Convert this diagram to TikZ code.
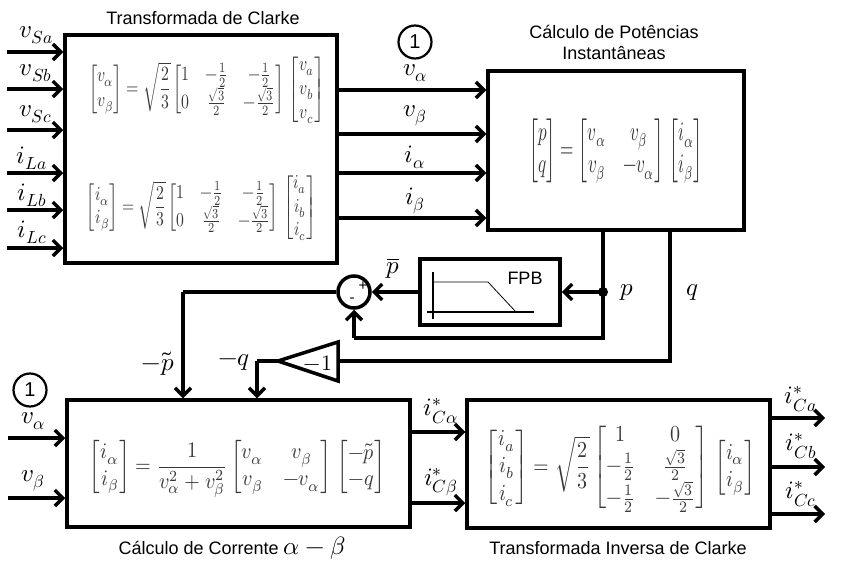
\documentclass[tikz,border=0pt]{standalone}
\usepackage{amsmath}
\usepackage{graphicx}
\usepackage{fontspec}
\setmainfont{Liberation Sans}
\usepackage{unicode-math}
\setmathfont{Latin Modern Math}
\usetikzlibrary{arrows.meta}
\begin{document}
\begin{tikzpicture}[x=1pt,y=-1pt,
  blk/.style={draw,line width=3.5pt,rectangle,inner sep=0pt},
  arr/.style={line width=3.5pt,-{Straight Barb[length=8pt,width=16pt,line width=3.5pt]}},
  ln/.style={line width=3.5pt},
  lab/.style={font=\fontsize{25}{28}\selectfont,inner sep=0pt},
  eq/.style={text=black!78,inner sep=0pt},
  ttl/.style={font=\fontsize{18}{21}\selectfont,inner sep=0pt,align=center},
  num/.style={draw,circle,line width=2.2pt,minimum size=33pt,inner sep=0pt,font=\fontsize{20}{22}\selectfont}]
\useasboundingbox (0,0) rectangle (844,570);

% blocks
\node[blk,minimum width=272pt,minimum height=228pt] (clarke) at (201,149) {};
\node[blk,minimum width=256pt,minimum height=159pt] (pot) at (616,150.5) {};
\node[blk,minimum width=140pt,minimum height=66pt] (fpb) at (490,292) {};
\node[blk,minimum width=343pt,minimum height=127pt] (cor) at (238.5,463.5) {};
\node[blk,minimum width=303pt,minimum height=128pt] (inv) at (618.5,464) {};
\node[draw,circle,line width=3.5pt,minimum size=32pt,inner sep=0pt] (sum) at (354,292) {};

% titles
\node[ttl] (t1) at (203,18) {Transformada de Clarke};
\node[ttl] (t2) at (614,42) {Cálculo de Potências\\Instantâneas};
\node[ttl] (t3) at (232,548) {Cálculo de Corrente {\fontsize{25}{28}\selectfont$\alpha-\beta$}};
\node[ttl] (t4) at (618,548) {Transformada Inversa de Clarke};

% equations
\node[eq] (e1) at (207,89.5) {\resizebox*{236pt}{73pt}{$\begin{bmatrix}v_\alpha\\ v_\beta\end{bmatrix}=\sqrt{\dfrac{2}{3}}\begin{bmatrix}1&-\frac12&-\frac12\\ 0&\frac{\sqrt3}{2}&-\frac{\sqrt3}{2}\end{bmatrix}\,\begin{bmatrix}v_a\\ v_b\\ v_c\end{bmatrix}$}};
\node[eq] (e2) at (202,207.5) {\resizebox*{230pt}{71pt}{$\begin{bmatrix}i_\alpha\\ i_\beta\end{bmatrix}=\sqrt{\dfrac{2}{3}}\begin{bmatrix}1&-\frac12&-\frac12\\ 0&\frac{\sqrt3}{2}&-\frac{\sqrt3}{2}\end{bmatrix}\,\begin{bmatrix}i_a\\ i_b\\ i_c\end{bmatrix}$}};
\node[eq] (e3) at (616,150.5) {\resizebox*{174pt}{65pt}{$\begin{bmatrix}p\\ q\end{bmatrix}=\begin{bmatrix}v_\alpha&v_\beta\\ v_\beta&-v_\alpha\end{bmatrix}\,\begin{bmatrix}i_\alpha\\ i_\beta\end{bmatrix}$}};
\node[eq] (e4) at (237.5,469) {\resizebox*{295pt}{58pt}{$\begin{bmatrix}i_\alpha\\ i_\beta\end{bmatrix}=\dfrac{1}{v_\alpha^2+v_\beta^2}\begin{bmatrix}v_\alpha&v_\beta\\ v_\beta&-v_\alpha\end{bmatrix}\,\begin{bmatrix}-\tilde p\\ -q\end{bmatrix}$}};
\node[eq] (e5) at (620,467.5) {\resizebox*{270pt}{91pt}{$\begin{bmatrix}i_a\\ i_b\\ i_c\end{bmatrix}=\sqrt{\dfrac{2}{3}}\begin{bmatrix}1&0\\ -\frac12&\frac{\sqrt3}{2}\\ -\frac12&-\frac{\sqrt3}{2}\end{bmatrix}\,\begin{bmatrix}i_\alpha\\ i_\beta\end{bmatrix}$}};

% Clarke inputs
\foreach \y/\t/\lx/\ly in {52/v_{Sa}/36/35, 89/v_{Sb}/36/73, 130/v_{Sc}/36/114, 173/i_{La}/32/158, 210/i_{Lb}/32/195, 248/i_{Lc}/32/232}{
  \coordinate (in\y) at (7,\y);
  \draw[arr] (in\y) -- (clarke.west |- in\y);
  \node[lab] at (\lx,\ly) {$\t$};
}
% Clarke outputs
\foreach \y/\t/\ly in {90/v_\alpha/73, 134/v_\beta/116, 173/i_\alpha/157, 218/i_\beta/201}{
  \coordinate (o\y) at (clarke.east |- 0,\y);
  \draw[arr] (o\y) -- (pot.west |- o\y);
  \node[lab] at (415,\ly) {$\t$};
}
\node[num] (n1) at (415,42) {1};

% p path
\coordinate (pt) at (603,230);
\coordinate (pd) at (603,292);
\coordinate (pb) at (603,338);
\coordinate (sb) at (354,338);
\draw[ln] (pt) -- (pb) -- (sb);
\draw[arr] (sb) -- (sum.south);
\fill (pd) circle (5pt);
\draw[arr] (pd) -- (fpb.east);
\node[lab] at (627,292) {$p$};
\draw[arr] (fpb.west) -- (sum.east);
\node[lab] at (393,268) {$\overline{p}$};
\node[font=\fontsize{15}{16}\selectfont,inner sep=0pt] at (363,286) {+};
\node[font=\fontsize{15}{16}\selectfont,inner sep=0pt] at (352,300) {-};

% FPB content
\node[font=\fontsize{18}{20}\selectfont,inner sep=0pt] (fl) at (525,278) {FPB};
\draw[line width=1.8pt] (433,272) -- (433,319);
\draw[line width=1.8pt] (427,312) -- (534,312);
\draw[line width=0.8pt] (433,282) -- (488,282) -- (516,312);

% p tilde path
\coordinate (pl) at (183,292);
\draw[ln] (sum.west) -- (pl);
\draw[arr] (pl) -- (pl |- cor.north);
\node[lab] at (158,364) {$-\tilde p$};

% q path
\coordinate (qt) at (670,230);
\coordinate (qb) at (670,361);
\coordinate (tr) at (338,361);
\coordinate (tt) at (278,361);
\draw[ln] (qt) -- (qb) -- (tr);
\node[lab] at (692,292) {$q$};
\draw[line width=3.5pt,line join=miter] (338,342) -- (338,381) -- (tt) -- cycle;
\node[font=\fontsize{22}{24}\selectfont,inner sep=0pt] at (318,363) {$-1$};
\coordinate (ql) at (257,361);
\draw[ln] (tt) -- (ql);
\draw[arr] (ql) -- (ql |- cor.north);
\node[lab] at (234,362) {$-q$};

% current block inputs
\node[num] (n2) at (30,390) {1};
\foreach \y/\t/\ly in {438/v_\alpha/421, 498/v_\beta/481}{
  \coordinate (ci\y) at (8,\y);
  \draw[arr] (ci\y) -- (cor.west |- ci\y);
  \node[lab] at (33,\ly) {$\t$};
}
% current outputs
\foreach \y/\t/\ly in {432/i^*_{C\alpha}/411, 503/i^*_{C\beta}/482}{
  \coordinate (co\y) at (cor.east |- 0,\y);
  \draw[arr] (co\y) -- (inv.west |- co\y);
  \node[lab] at (441,\ly) {$\t$};
}
% inverse outputs
\foreach \y/\t/\ly in {418/i^*_{Ca}/399, 467/i^*_{Cb}/446, 514/i^*_{Cc}/494}{
  \coordinate (io\y) at (inv.east |- 0,\y);
  \coordinate (ie\y) at (825,\y);
  \draw[arr] (io\y) -- (ie\y);
  \node[lab] at (801,\ly) {$\t$};
}
\end{tikzpicture}
\end{document}
